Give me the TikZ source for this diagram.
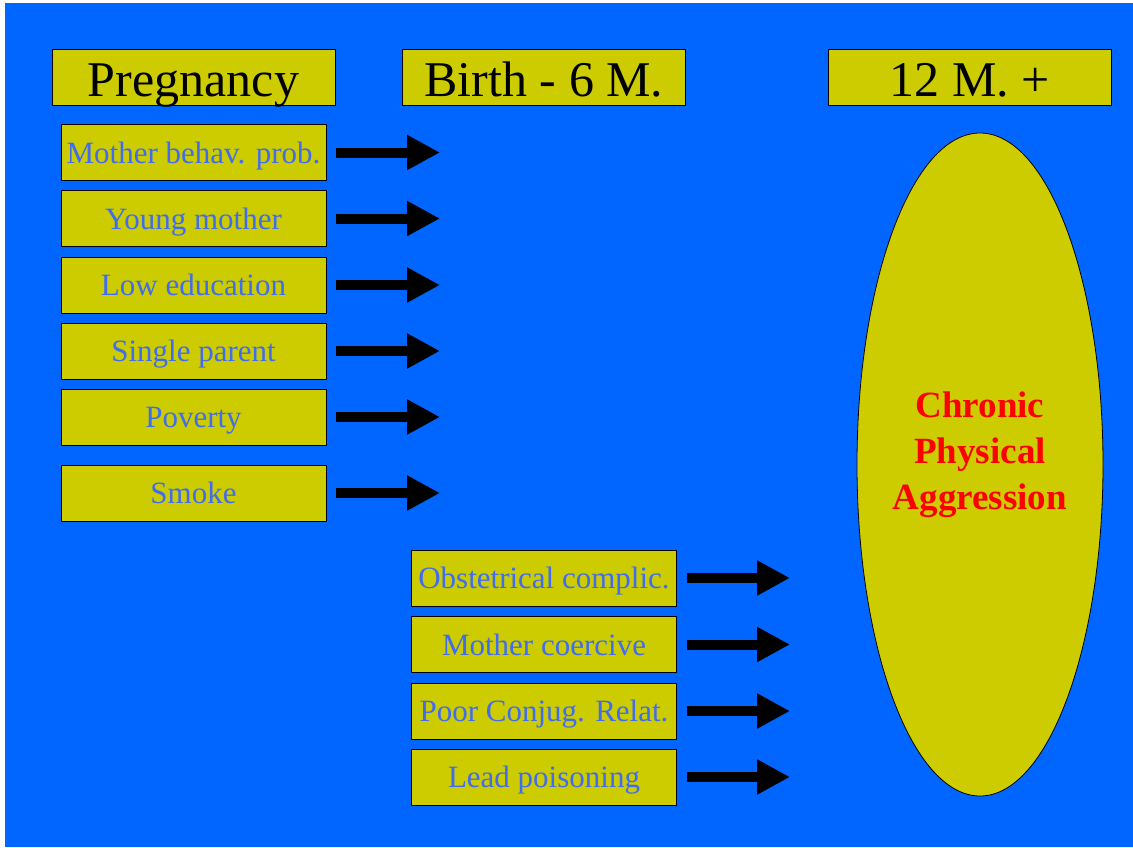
\documentclass[tikz,border=0pt]{standalone}
\usepackage{fontspec}
\setmainfont{Liberation Serif}
\usetikzlibrary{arrows.meta,shapes.geometric}
\definecolor{slideblue}{RGB}{0,102,255}
\definecolor{boxyellow}{RGB}{204,204,0}
\definecolor{labelblue}{RGB}{64,108,240}
\tikzset{
  header/.style={draw=black, line width=0.8pt, fill=boxyellow, minimum width=283pt,
    minimum height=56pt, inner sep=0pt, text height=44pt, text depth=6pt,
    font=\fontsize{50}{56}\selectfont},
  factor/.style={draw=black, line width=0.8pt, fill=boxyellow, minimum width=265pt,
    minimum height=56pt, inner sep=0pt, text height=24pt, text depth=3pt,
    text=labelblue, font=\fontsize{31}{36}\selectfont},
  fatarrow/.style={line width=10pt, -{Triangle[length=33pt,width=33pt]}}
}
\begin{document}
\begin{tikzpicture}[x=1pt, y=-1pt]
  \useasboundingbox (0,0) rectangle (1133,847);
  \fill[white] (0,0) rectangle (1133,847);
  \fill[slideblue] (5,3) rectangle (1133,847);
  % column headers
  \node[header] (preg) at (193.5,77) {Pregnancy};
  \node[header] (birth) at (544,77) {Birth - 6 M.};
  \node[header] (later) at (970,77) {12 M. +};
  % pregnancy factors
  \foreach \n/\y/\t in {p1/152.5/Mother behav. prob., p2/218.5/Young mother,
                        p3/285/Low education, p4/351/Single parent,
                        p5/417/Poverty, p6/493/Smoke} {
    \node[factor] (\n) at (193.5,\y) {\t};
    \coordinate (\n-tip) at (440,\y);
    \draw[fatarrow] ([xshift=10pt]\n.east) -- (\n-tip);
  }
  % birth to 6 months factors
  \foreach \n/\y/\t in {b1/578/Obstetrical complic., b2/644.5/Mother coercive,
                        b3/711/Poor Conjug. Relat., b4/777/Lead poisoning} {
    \node[factor] (\n) at (544,\y) {\t};
    \coordinate (\n-tip) at (790,\y);
    \draw[fatarrow] ([xshift=10pt]\n.east) -- (\n-tip);
  }
  % outcome
  \node[ellipse, draw=black, line width=0.8pt, fill=boxyellow, minimum width=246pt,
    minimum height=663pt, inner sep=0pt] (cpa) at (980,464.5) {};
  \node[align=center, text=red, font=\bfseries\fontsize{37}{46}\selectfont]
    (cpatext) at ([yshift=10pt]cpa.center) {Chronic\\Physical\\Aggression};
\end{tikzpicture}
\end{document}
